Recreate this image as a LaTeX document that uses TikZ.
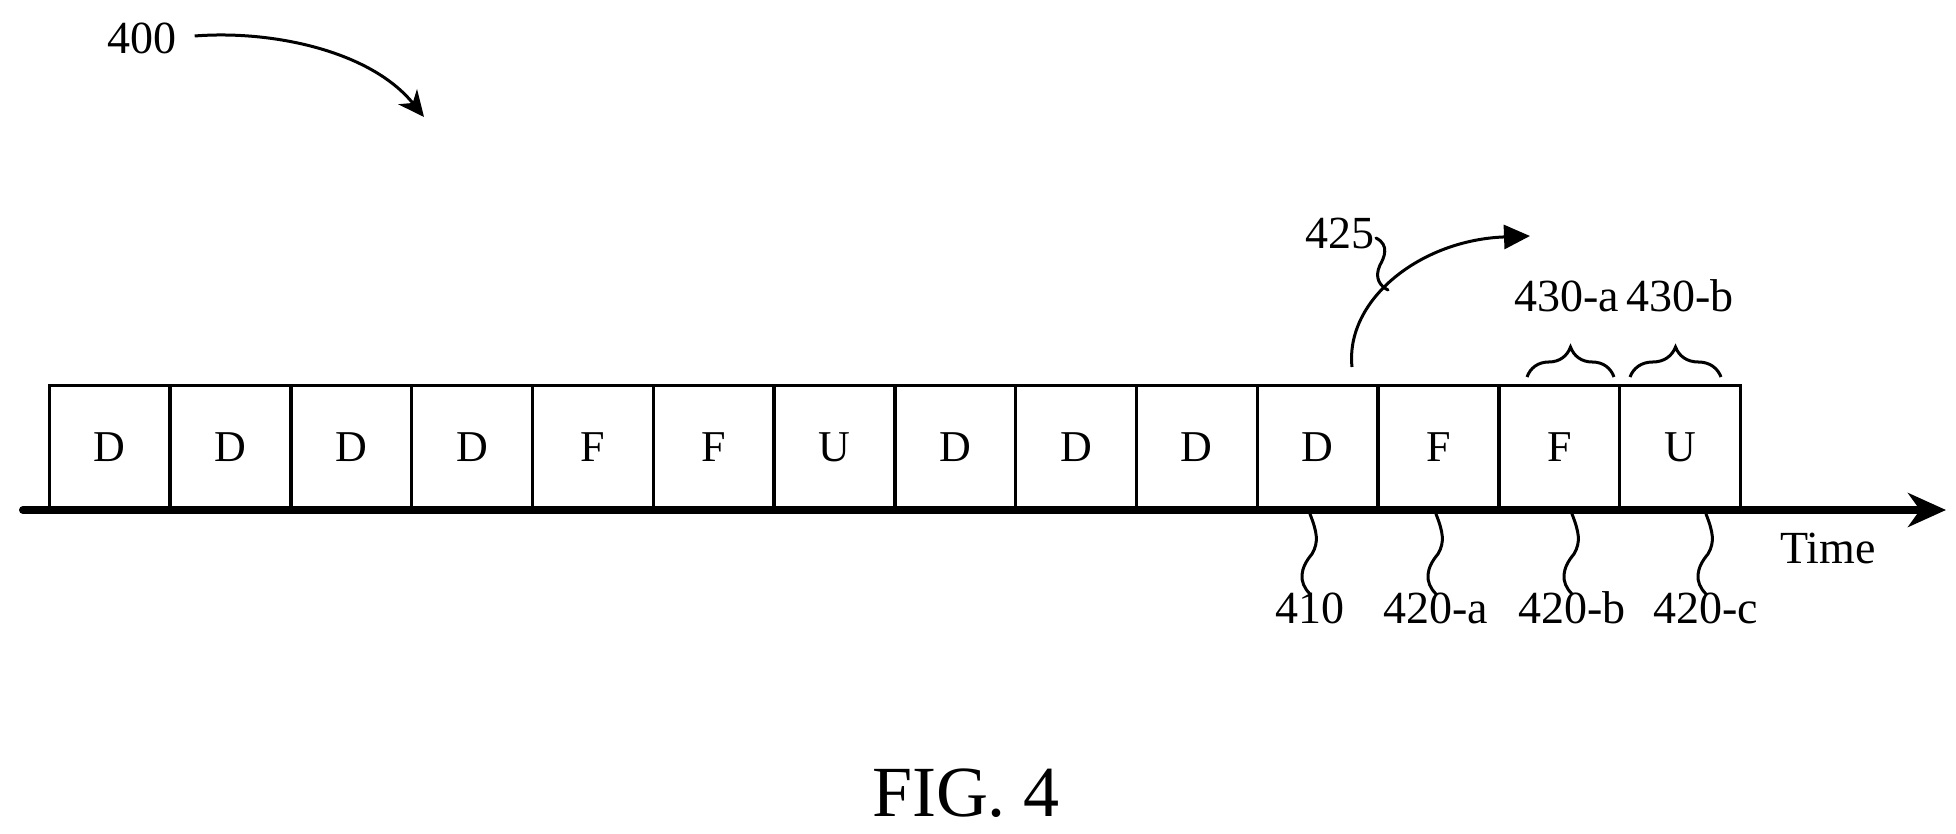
\documentclass[tikz,border=0pt]{standalone}
\usepackage{fontspec}
\setmainfont{Liberation Serif}
\usetikzlibrary{arrows.meta,decorations.pathreplacing}
\begin{document}
\begin{tikzpicture}[x=1pt,y=-1pt,
  slot/.style={draw,line width=3pt,minimum width=120.3pt,minimum height=123pt,inner sep=0pt,anchor=south west,font=\fontsize{44}{44}\selectfont},
  lbl/.style={font=\fontsize{46}{46}\selectfont,inner sep=0pt},
  sq/.style={line width=3pt,line cap=round},
  ptr/.style={line width=3pt},
  brc/.style={line width=3pt,decorate,decoration={brace,amplitude=30pt}}]
\useasboundingbox (0,0) rectangle (1956,834);
\foreach \t [count=\i from 0] in {D,D,D,D,F,F,U,D,D,D,D,F,F,U}{
  \node[slot] (b\i) at ({48+120.8*\i},510) {\t};
}
\coordinate (axs) at (23,510);
\coordinate (axe) at (1946,510);
\draw[line width=8pt,line cap=round,-{Stealth[length=38pt,width=34pt,inset=12pt]}] (axs) -- (axe);
\node[lbl,anchor=west] (time) at (1780,548) {Time};
% squiggles below
\foreach \n/\x/\t in {s410/1310/410,s420a/1436/420-a,s420b/1572/420-b,s420c/1706/420-c}{
  \draw[sq] (\x,514) .. controls (\x+7,532) and (\x+9,542) .. (\x+2,554) .. controls (\x-10,568) and (\x-12,582) .. (\x,594);
  \node[lbl] (\n) at (\x,608) {\t};
}
% 400
\node[lbl] (l400) at (142,38) {400};
\coordinate (a400) at (424,117);
\draw[ptr,-{Stealth[length=26pt,width=24pt,inset=8pt]}] (l400.east)++(18,-2) .. controls (270,30) and (370,50) .. (a400);
% 425
\node[lbl] (l425) at (1340,233) {425};
\coordinate (c425s) at (1352,367);
\coordinate (c425e) at (1530,236);
\draw[ptr,-{Triangle[length=26pt,width=24pt]}] (c425s) .. controls (1345,300) and (1420,240) .. (c425e);
\draw[sq] (1376,238) .. controls (1390,245) and (1384,258) .. (1380,265) .. controls (1374,278) and (1380,286) .. (1388,290);
% braces
\draw[brc] (1527,377) -- (1614,377);
\draw[brc] (1630,377) -- (1721,377);
\node[lbl] (l430a) at (1567,296) {430-a};
\node[lbl] (l430b) at (1680,296) {430-b};
\node[font=\fontsize{72}{72}\selectfont,inner sep=0pt] (fig) at (966,793) {FIG. 4};
\end{tikzpicture}
\end{document}
